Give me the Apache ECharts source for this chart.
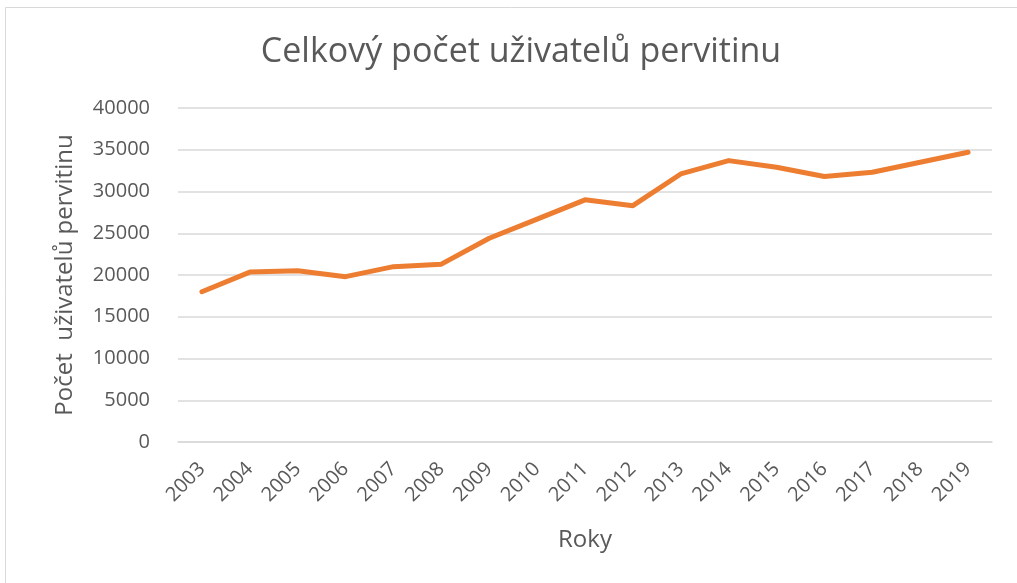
<!DOCTYPE html>
<html>
<head>
<meta charset="utf-8">
<script src="https://cdn.jsdelivr.net/npm/echarts@6/dist/echarts.min.js"></script>
<style>
html,body{margin:0;padding:0;background:#fff;}
#c{width:1017px;height:583px;}
</style>
</head>
<body>
<div id="c"></div>
<script>
var years = ['2003','2004','2005','2006','2007','2008','2009','2010','2011','2012','2013','2014','2015','2016','2017','2018','2019'];
var users = [18000,20350,20500,19800,21000,21300,24400,26700,29000,28300,32100,33700,32900,31800,32300,33500,34700];
var yTicks = [0,5000,10000,15000,20000,25000,30000,35000,40000];

var font = '"Open Sans", "Noto Sans", sans-serif';
var chart = echarts.init(document.getElementById('c'), null, {renderer:'canvas'});
chart.setOption({
  animation:false,
  backgroundColor:'#fff',
  graphic:[{type:'rect',shape:{x:5.5,y:7.5,width:1030,height:600},style:{fill:'none',stroke:'#d9d9d9',lineWidth:1}}],
  title:{text:'Celkový počet uživatelů pervitinu',left:516,top:30,textAlign:'center',
    textStyle:{fontFamily:font,fontSize:34,fontWeight:'normal',color:'#595959'}},
  grid:{left:178,right:25,top:108,bottom:141,containLabel:false},
  xAxis:{type:'category',data:years,boundaryGap:true,
    name:'Roky',nameLocation:'middle',nameGap:86,
    nameTextStyle:{fontFamily:font,fontSize:24,color:'#595959'},
    axisLine:{lineStyle:{color:'#d9d9d9',width:1.5}},
    axisTick:{show:false},
    axisLabel:{rotate:45,fontFamily:font,fontSize:20,color:'#595959',margin:24,interval:0}},
  yAxis:{type:'value',min:yTicks[0],max:yTicks[yTicks.length-1],interval:5000,
    name:'Počet  uživatelů pervitinu',nameLocation:'middle',nameGap:101,nameRotate:90,
    nameTextStyle:{fontFamily:font,fontSize:24,color:'#595959'},
    axisLine:{show:false},axisTick:{show:false},
    axisLabel:{fontFamily:font,fontSize:20,color:'#595959',margin:28,formatter:function(v){return String(v);}},
    splitLine:{lineStyle:{color:'#d9d9d9',width:1.5}}},
  series:[{type:'line',data:users,symbol:'none',
    lineStyle:{color:'#ED7D31',width:5,cap:'round',join:'round'}}]
});
</script>
</body>
</html>
